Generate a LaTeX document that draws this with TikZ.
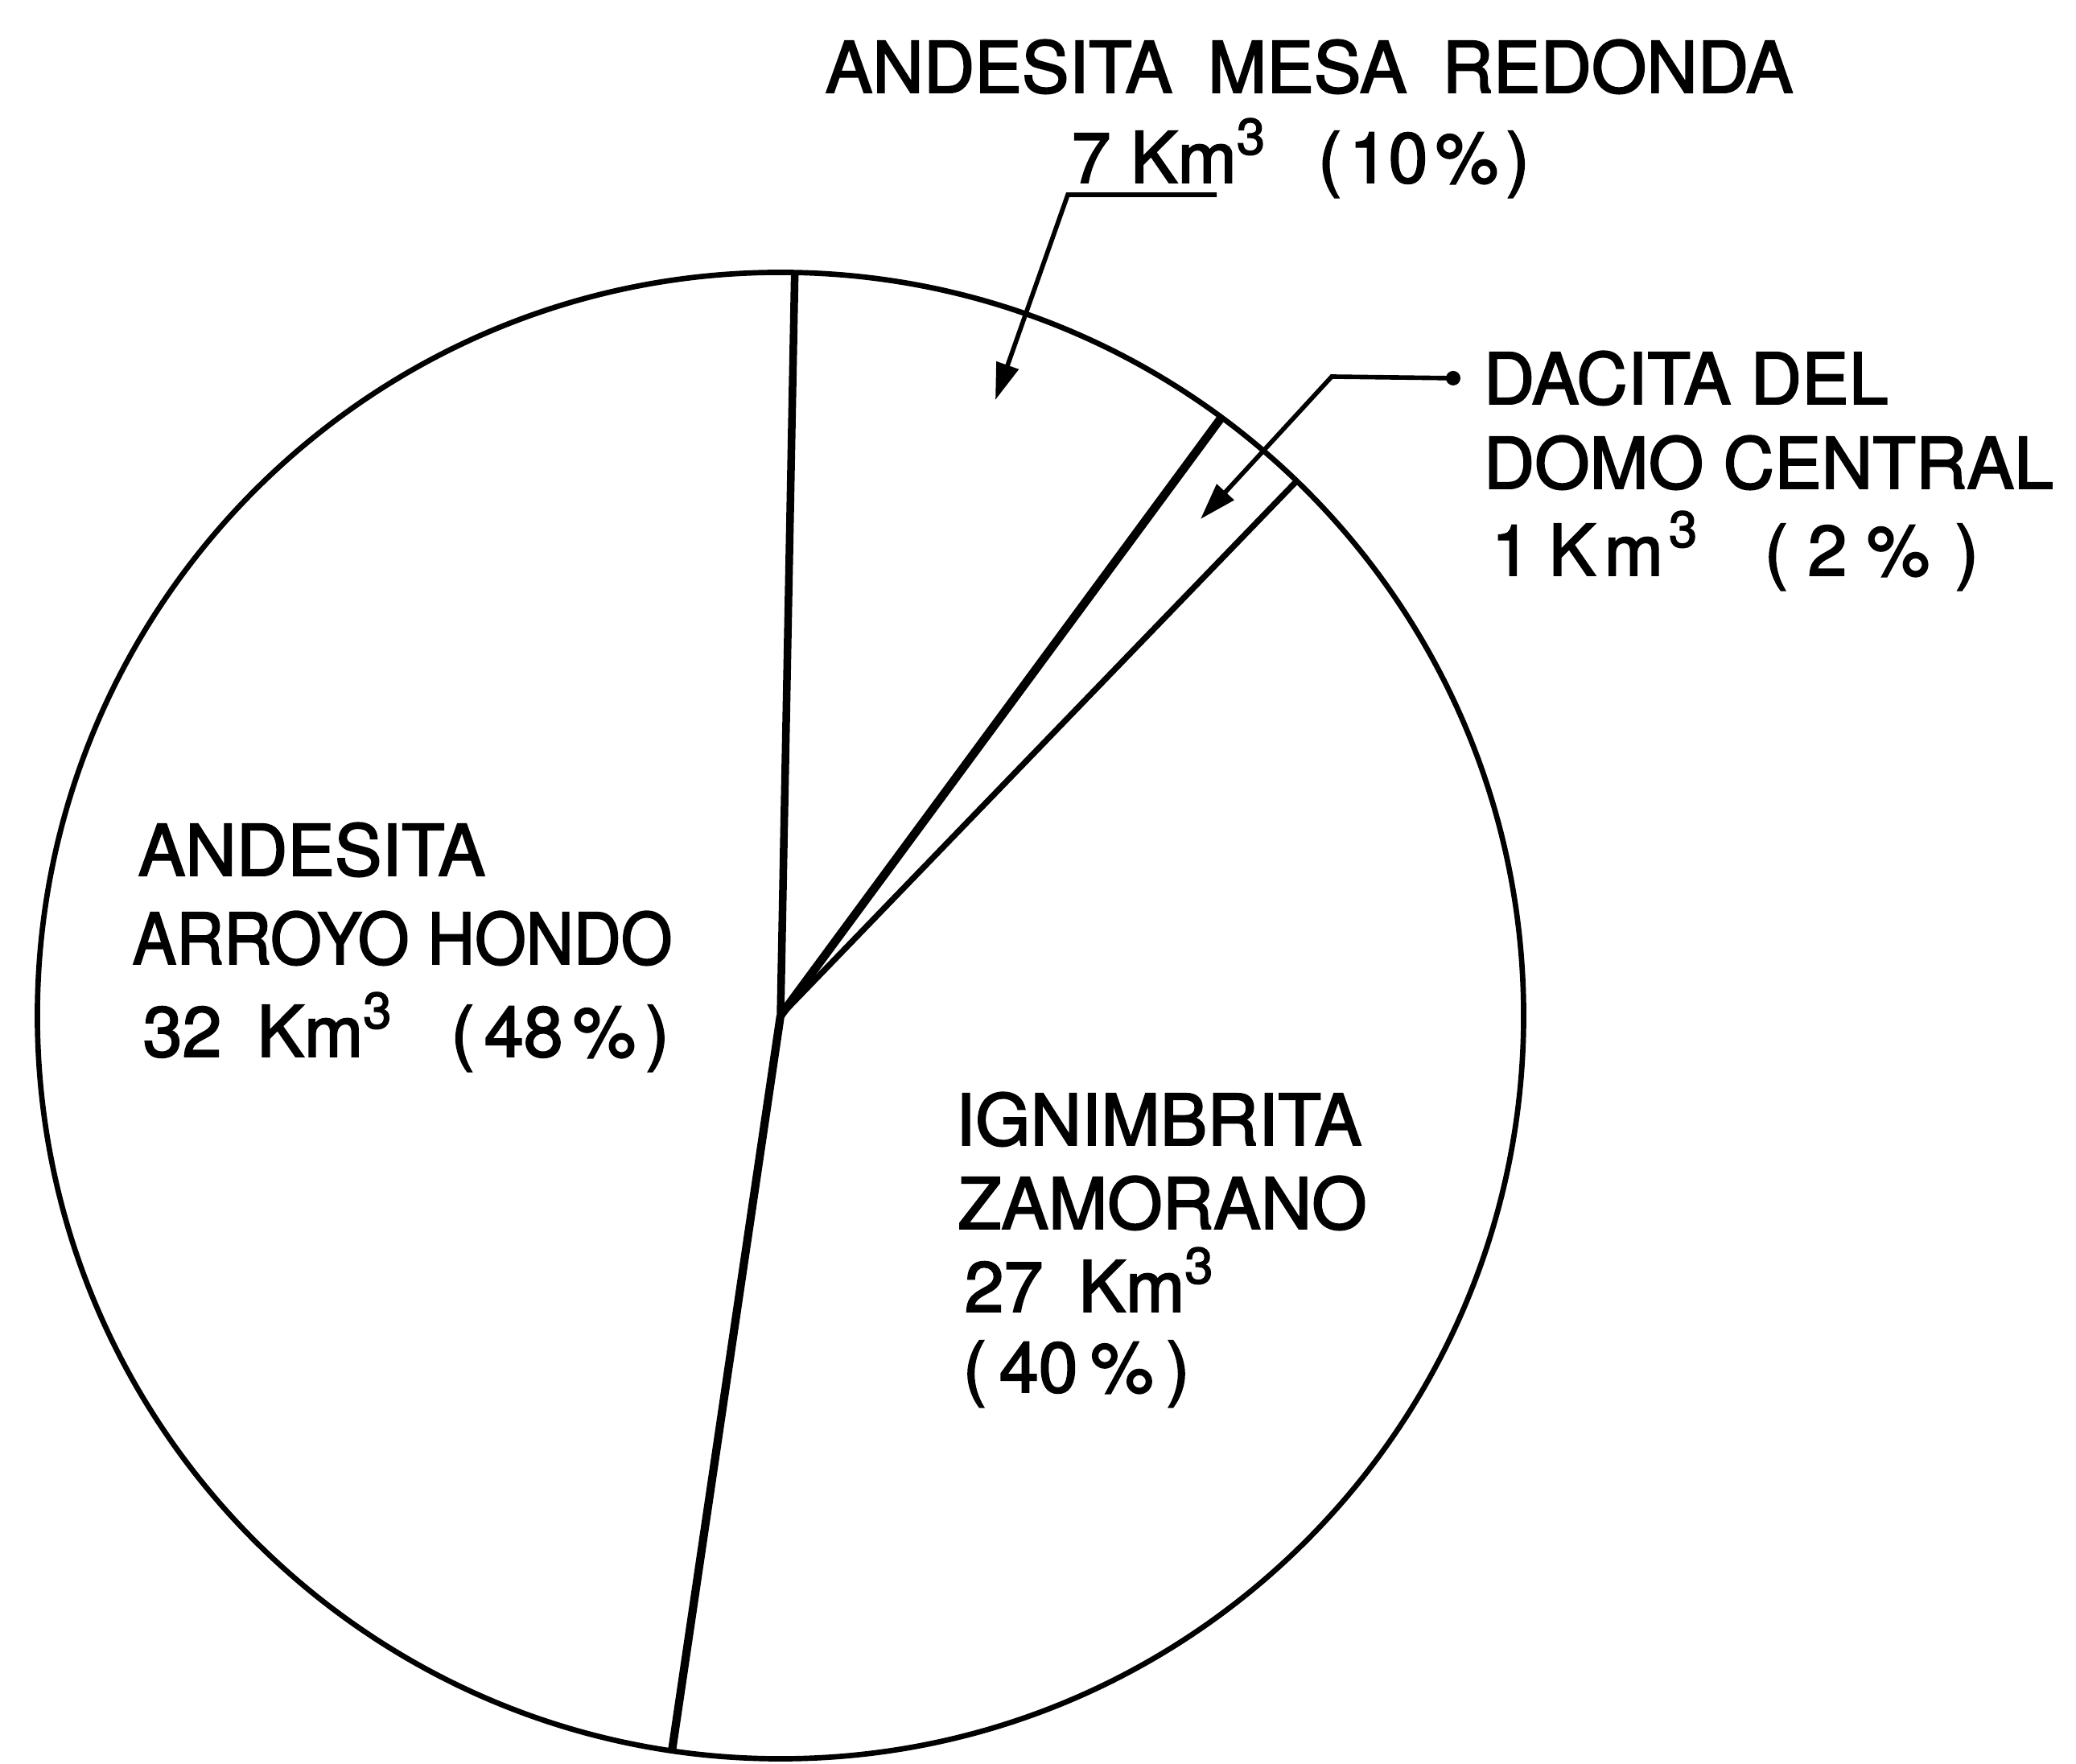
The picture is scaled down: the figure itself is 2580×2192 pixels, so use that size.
\documentclass[tikz,border=0pt]{standalone}
\usepackage{fontspec}
\setmainfont[FakeBold=2.2]{TeX Gyre Heros}
\usetikzlibrary{arrows.meta}
\newcommand\kmcube{\raisebox{10pt}{\fontsize{18}{18}\selectfont 3}}
\begin{document}
\begin{tikzpicture}[x=0.01cm,y=0.01cm,
  lbl/.style={anchor=base west,inner sep=0pt,font=\fontsize{25}{30}\selectfont},
  rim/.style={line width=1.9pt},
  radial/.style={line width=2.7pt},
  leader/.style={line width=1.6pt,-{Triangle[length=13pt,width=8pt]}}]
\useasboundingbox (0,0) rectangle (2580,-2192);
% pie
\coordinate (c) at (970,-1262);
\draw[rim] (c) circle[radius=9.23cm];
\draw[radial] (c) -- ++(88.9:9.23cm) coordinate (r1);
\draw[radial,line width=3pt] (c) -- ++(53.6:9.23cm) coordinate (r2);
\draw[radial,line width=2.1pt] (c) -- ++(46.0:9.23cm) coordinate (r3);
\draw[radial,line width=2.9pt] (c) -- ++(261.6:9.23cm) coordinate (r4);
% labels
\node[lbl] (mr1) at (1025,-115) {ANDESITA\hspace{0.5em}MESA\hspace{0.5em}REDONDA};
\node[lbl] (mr2) at (1331,-227) {7 Km\kmcube\hspace{0.75em}(\kern2.7pt10\kern2.7pt\%\kern2.7pt)};
\node[lbl] (dc1) at (1843,-502) {DACITA DEL};
\node[lbl] (dc2) at (1843,-607) {DOMO CENTRAL};
\node[lbl] (dc3) at (1853,-715) {1\hspace{0.25em}K\kern3pt m\kern2pt\kmcube\hspace{0.95em}(\kern7pt2\kern7pt\%\kern9pt)};
\node[lbl] (ah1) at (171,-1088) {ANDESITA};
\node[lbl] (ah2) at (164,-1198) {\scalebox{0.93}[1]{ARROYO HONDO}};
\node[lbl] (ah3) at (177,-1313) {32\hspace{0.5em}Km\kmcube\hspace{0.84em}(\kern3.5pt48\kern3.5pt\%\kern3.5pt)};
\node[lbl] (ig1) at (1187,-1423) {IGNIMBRITA};
\node[lbl] (ig2) at (1190,-1527) {ZAMORANO};
\node[lbl] (ig3) at (1198,-1630) {27\hspace{0.5em}Km\kmcube};
\node[lbl] (ig4) at (1196,-1730) {(\kern4.5pt40\kern4.5pt\%\kern4.5pt)};
% leaders
\coordinate (mrA) at ([xshift=1.81cm,yshift=-0.15cm]mr2.base west);
\coordinate (mrB) at ([xshift=-0.04cm,yshift=-0.15cm]mr2.base west);
\coordinate (mrT) at (1237,-497);
\draw[leader] (mrA) -- (mrB) -- (mrT);
\coordinate (dcA) at ([xshift=-0.37cm]dc1.west);
\coordinate (dcB) at (1655,-468);
\coordinate (dcT) at (1492,-645);
\draw[leader] (dcA) -- (dcB) -- (dcT);
\fill (dcA) circle[radius=0.09cm];
\end{tikzpicture}
\end{document}
